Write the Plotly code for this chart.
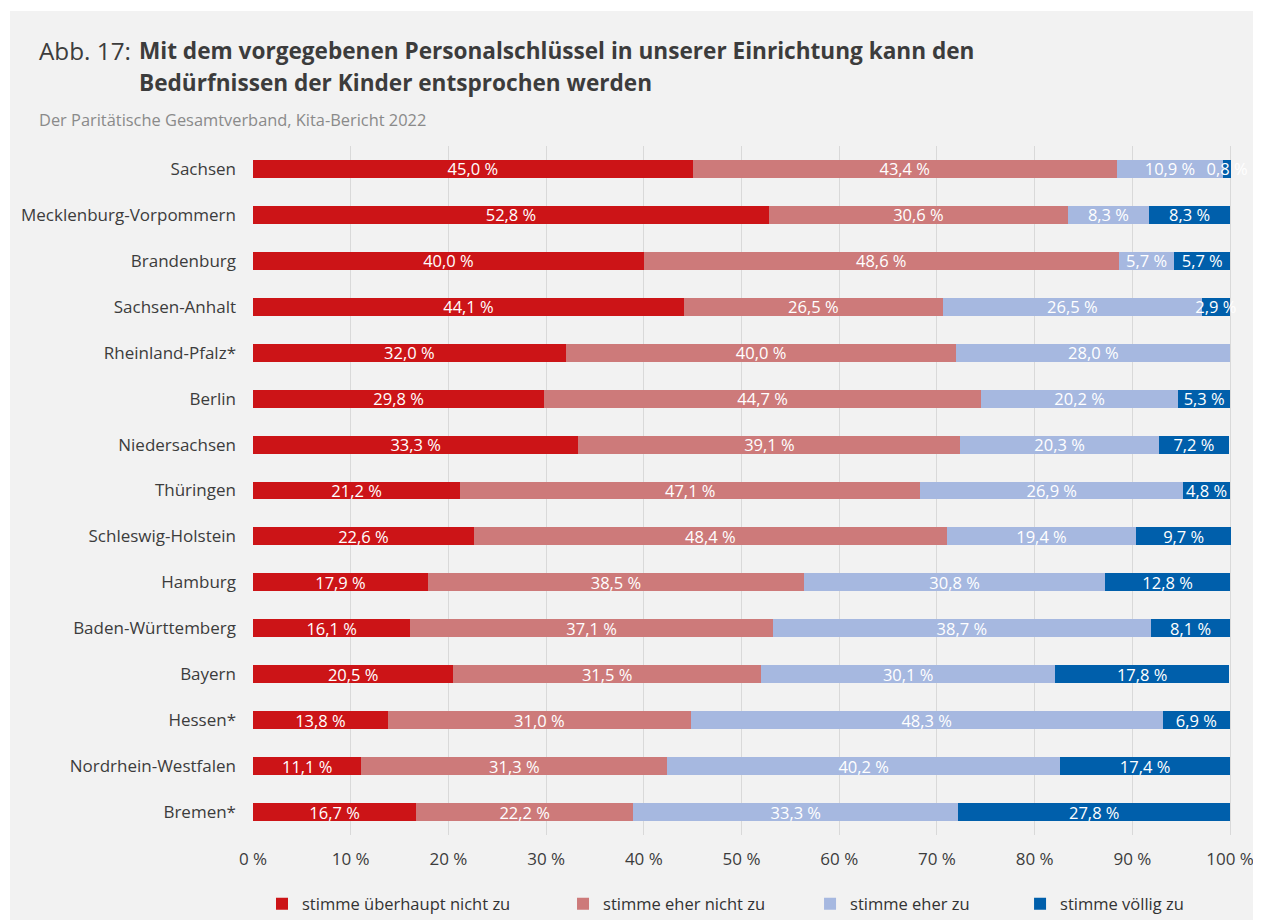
import plotly.graph_objects as go

laender = ["Sachsen", "Mecklenburg-Vorpommern", "Brandenburg", "Sachsen-Anhalt",
           "Rheinland-Pfalz*", "Berlin", "Niedersachsen", "Thüringen",
           "Schleswig-Holstein", "Hamburg", "Baden-Württemberg", "Bayern",
           "Hessen*", "Nordrhein-Westfalen", "Bremen*"]

ueberhaupt_nicht = [45.0, 52.8, 40.0, 44.1, 32.0, 29.8, 33.3, 21.2, 22.6, 17.9, 16.1, 20.5, 13.8, 11.1, 16.7]
eher_nicht = [43.4, 30.6, 48.6, 26.5, 40.0, 44.7, 39.1, 47.1, 48.4, 38.5, 37.1, 31.5, 31.0, 31.3, 22.2]
eher_zu = [10.9, 8.3, 5.7, 26.5, 28.0, 20.2, 20.3, 26.9, 19.4, 30.8, 38.7, 30.1, 48.3, 40.2, 33.3]
voellig_zu = [0.8, 8.3, 5.7, 2.9, 0.0, 5.3, 7.2, 4.8, 9.7, 12.8, 8.1, 17.8, 6.9, 17.4, 27.8]

series_names = ["stimme überhaupt nicht zu", "stimme eher nicht zu", "stimme eher zu", "stimme völlig zu"]
series_values = [ueberhaupt_nicht, eher_nicht, eher_zu, voellig_zu]
series_colors = ["#cc1417", "#cd7a7a", "#a6b8e0", "#005fab"]

x_ticks = [0, 10, 20, 30, 40, 50, 60, 70, 80, 90, 100]
x_ticklabels = [f"{t} %" for t in x_ticks]

FONT = "Open Sans"
OFF = 8  # page body margin
XMAX = 100.3  # a little headroom so rounding sums >100 keep their labels
W, H = 1253, 912
X0_PX, X100_PX = 253, 1230
XR_PX = X0_PX + (X100_PX - X0_PX) * XMAX / 100.0
L, R, T, B = X0_PX - OFF, W - (XR_PX - OFF), 146 - OFF, H - (835 - OFF)
PW, PH = W - L - R, H - T - B


def px(x):
    """absolute screen pixel x -> paper fraction"""
    return (x - OFF - L) / PW


def py(y):
    return (H - B - (y - OFF)) / PH


def fmt(v):
    return (f"{v:.1f}".replace(".", ",") + " %") if v > 0 else ""


legend_text_x = [302, 603, 850, 1060]
fig = go.Figure()
for i, (name, vals, col) in enumerate(zip(series_names, series_values, series_colors)):
    lg = "legend" if i == 0 else f"legend{i+1}"
    fig.add_trace(go.Bar(
        y=laender, x=vals, orientation="h", name=name,
        marker=dict(color=col, line=dict(width=0)),
        text=[fmt(v) for v in vals], textposition="inside", textangle=0,
        insidetextanchor="middle", constraintext="none", cliponaxis=False,
        textfont=dict(family=FONT, color="white", size=16.5),
        hoverinfo="skip", legend=lg, showlegend=True,
    ))

layout_legends = {}
for i, tx in enumerate(legend_text_x):
    key = "legend" if i == 0 else f"legend{i+1}"
    layout_legends[key] = dict(
        orientation="h", x=px(tx - 40), y=py(904), xanchor="left", yanchor="middle",
        bgcolor="rgba(0,0,0,0)", font=dict(family=FONT, size=16.5, color="#333333"),
        itemwidth=30, visible=True,
    )

fig.update_layout(
    width=W, height=H,
    margin=dict(l=L, r=R, t=T, b=B, autoexpand=False),
    barmode="stack", bargap=0.61,
    paper_bgcolor="white", plot_bgcolor="rgba(0,0,0,0)",
    font=dict(family=FONT, color="#3c3c3c"),
    uniformtext=dict(minsize=16.5, mode="show"),
    showlegend=True,
    xaxis=dict(range=[0, XMAX], tickvals=x_ticks, ticktext=x_ticklabels,
               showgrid=True, gridcolor="#d9d9d9", gridwidth=1, zeroline=False,
               showline=False, ticks="", ticklabelstandoff=12,
               tickfont=dict(family=FONT, size=17, color="#3c3c3c"), fixedrange=True),
    yaxis=dict(autorange="reversed", showgrid=False, zeroline=False, ticks="",
               ticklabelstandoff=16,
               tickfont=dict(family=FONT, size=17, color="#3c3c3c"), fixedrange=True),
    shapes=[dict(type="rect", xref="paper", yref="paper", layer="below",
                 x0=px(10), x1=px(1270), y0=py(11), y1=py(930),
                 fillcolor="#f2f2f2", line=dict(width=0))],
    annotations=[
        dict(text="Abb. 17:", xref="paper", yref="paper", x=px(37), y=py(51),
             xanchor="left", yanchor="middle", showarrow=False,
             font=dict(family=FONT, size=24.3, color="#3c3c3c")),
        dict(text="<b>Mit dem vorgegebenen Personalschlüssel in unserer Einrichtung kann den</b>",
             xref="paper", yref="paper", x=px(137), y=py(51),
             xanchor="left", yanchor="middle", showarrow=False,
             font=dict(family=FONT, size=22.6, color="#3c3c3c")),
        dict(text="<b>Bedürfnissen der Kinder entsprochen werden</b>",
             xref="paper", yref="paper", x=px(137), y=py(83),
             xanchor="left", yanchor="middle", showarrow=False,
             font=dict(family=FONT, size=22.6, color="#3c3c3c")),
        dict(text="Der Paritätische Gesamtverband, Kita-Bericht 2022",
             xref="paper", yref="paper", x=px(37), y=py(119),
             xanchor="left", yanchor="middle", showarrow=False,
             font=dict(family=FONT, size=16.4, color="#8a8a8a")),
    ],
    **layout_legends,
)

fig.write_html("out.html")
